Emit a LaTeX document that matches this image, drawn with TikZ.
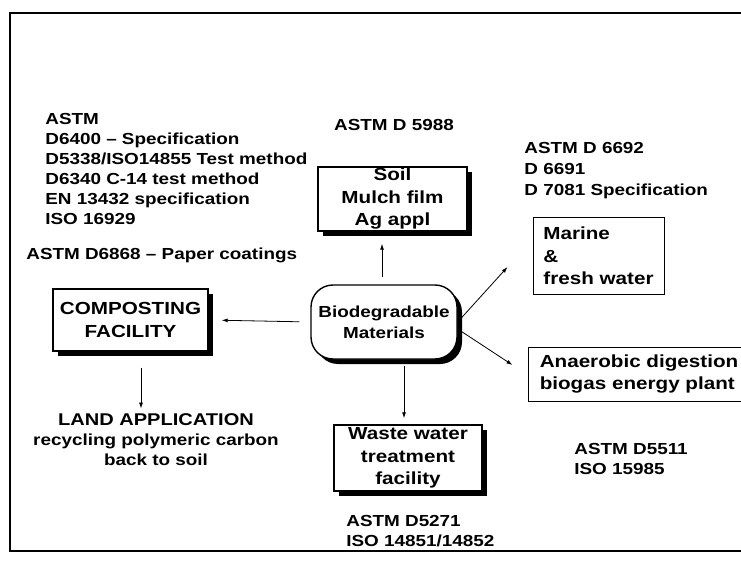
\documentclass[tikz,border=0pt]{standalone}
\usepackage{fontspec}
\setmainfont{Liberation Sans}[FakeStretch=1.18]
\usetikzlibrary{arrows.meta,shadows}
\begin{document}
\begin{tikzpicture}[x=1pt, y=-1pt, line width=0.8pt,
  every node/.style={font=\bfseries\fontsize{16}{20}\selectfont, align=left, inner sep=0pt},
  box/.style={draw, line width=1pt, fill=white, align=center, font=\bfseries\fontsize{17.5}{22.5}\selectfont},
  heavy/.style={line width=1.4pt, drop shadow={shadow xshift=5pt, shadow yshift=-5pt, fill=black, opacity=1}},
  arr/.style={-{Latex[length=6pt,width=4pt]}}]
  \useasboundingbox (0,0) rectangle (741,561);
  \draw[line width=1.8pt] (741,13) -- (10,13) -- (10,551) -- (741,551);
  \node[box, heavy, minimum width=149pt, minimum height=64pt] (soil) at (392.5,199) {Soil\\Mulch film\\Ag appl};
  \node[box, minimum width=131pt, minimum height=76pt, align=left] (marine) at (598.5,256) {Marine\\\&\\fresh water};
  \node[box, heavy, rounded corners=22pt, minimum width=146pt, minimum height=74pt, font=\bfseries\fontsize{16}{21}\selectfont] (bio) at (384,322) {Biodegradable\\Materials};
  \node[box, heavy, minimum width=155pt, minimum height=62pt] (comp) at (130.5,320) {COMPOSTING\\FACILITY};
  \node[box, minimum width=222pt, minimum height=54pt, align=left] (anaer) at (639,374) {Anaerobic digestion\\biogas energy plant};
  \node[box, heavy, minimum width=148pt, minimum height=66pt] (waste) at (408,458) {Waste water\\treatment\\facility};
  \node[anchor=west] (compstd) at (45,168.5) {ASTM\\D6400 -- Specification\\D5338/ISO14855 Test method\\D6340 C-14 test method\\EN 13432 specification\\ISO 16929};
  \node[anchor=west] (paper) at (26,255) {ASTM D6868 -- Paper coatings};
  \node (soilstd) at (394,125) {ASTM D 5988};
  \node[anchor=west, font=\bfseries\fontsize{16}{21}\selectfont] (marinestd) at (524,171) {ASTM D 6692\\D 6691\\D 7081 Specification};
  \node[anchor=west] (anaerstd) at (574,459) {ASTM D5511\\ISO 15985};
  \node[anchor=west] (wastestd) at (346,531) {ASTM D5271\\ISO 14851/14852};
  \node[align=center] (land) at (156,440) {{\fontsize{17}{22}\selectfont LAND APPLICATION}\\recycling polymeric carbon\\back to soil};
  \draw[arr, shorten <=7pt, shorten >=12pt] ([xshift=-2pt]bio.north) -- ([xshift=-2pt]bio.north |- soil.south);
  \draw[arr, shorten <=11pt, shorten >=13pt] (bio.west) -- (comp.east);
  \draw[arr, shorten <=16pt, shorten >=5pt] ([xshift=10.5pt]comp.south) -- ([xshift=-15pt]land.north);
  \draw[arr, shorten <=6pt, shorten >=6pt] ([xshift=-4pt]waste.north |- bio.south) -- ([xshift=-4pt]waste.north);
  \draw[arr] (bio.east) -- ([xshift=-25pt, yshift=-11pt]marine.west);
  \draw[arr] ([yshift=-7pt]bio.east) -- ([xshift=-15pt, yshift=9pt]anaer.west);
\end{tikzpicture}
\end{document}
